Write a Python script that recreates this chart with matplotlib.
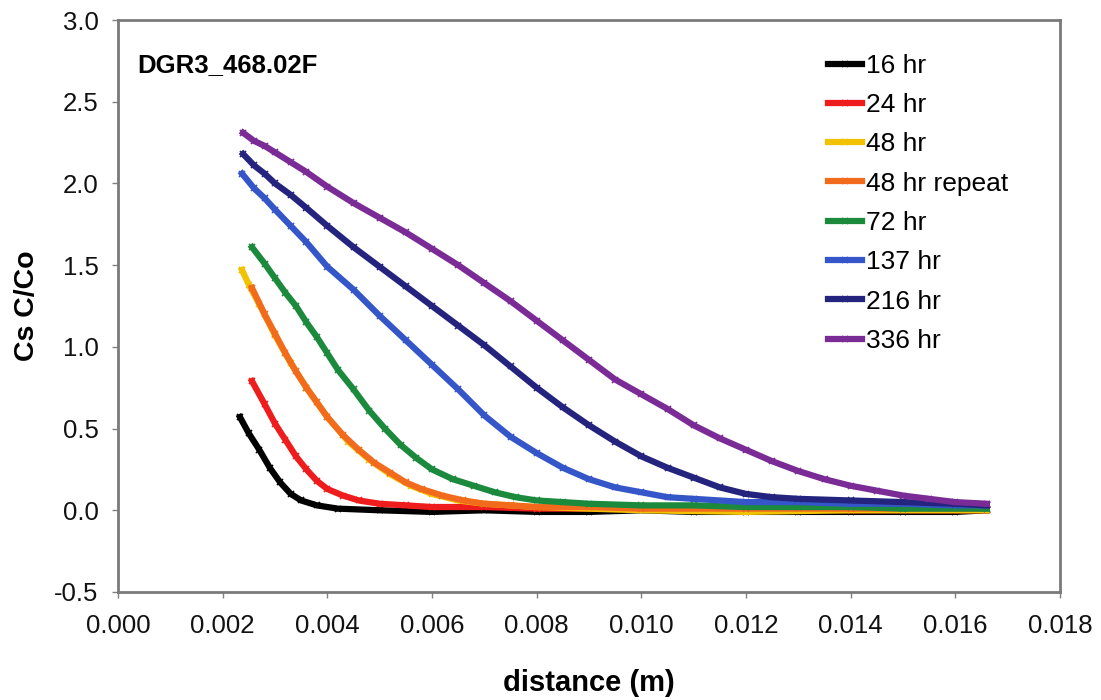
import matplotlib
matplotlib.use('Agg')
import matplotlib.pyplot as plt

plt.rcParams['font.family'] = ['Liberation Sans', 'DejaVu Sans']

# ── data (distance in m, C/Co) ────────────────────────────────
x_16 = [0.00233, 0.0025, 0.0027, 0.0029, 0.0031, 0.0033, 0.0035, 0.0038, 0.0042, 0.005,
        0.006, 0.007, 0.008, 0.009, 0.010, 0.011, 0.012, 0.013, 0.014, 0.015, 0.016, 0.0166]
y_16 = [0.57, 0.47, 0.37, 0.26, 0.17, 0.10, 0.06, 0.03, 0.01, 0.0,
        -0.01, 0.0, -0.01, -0.01, 0.0, -0.01, -0.01, -0.01, -0.01, -0.01, -0.01, 0.0]

x_24 = [0.00256, 0.0028, 0.0030, 0.0032, 0.0034, 0.0036, 0.0038, 0.0040, 0.0043, 0.0046,
        0.005, 0.0055, 0.006, 0.007, 0.008, 0.010, 0.012, 0.014, 0.0166]
y_24 = [0.79, 0.65, 0.53, 0.43, 0.33, 0.25, 0.18, 0.13, 0.09, 0.06,
        0.04, 0.03, 0.02, 0.02, 0.01, 0.01, 0.01, 0.0, 0.0]

x_48 = [0.00237, 0.0025, 0.0027, 0.0030, 0.0033, 0.0036, 0.0040, 0.0044, 0.0048, 0.0052,
        0.0056, 0.006, 0.0065, 0.007, 0.008, 0.010, 0.012, 0.014, 0.0166]
y_48 = [1.47, 1.38, 1.26, 1.07, 0.90, 0.75, 0.57, 0.42, 0.31, 0.22,
        0.15, 0.10, 0.06, 0.04, 0.02, 0.0, -0.01, 0.0, 0.0]

x_48r = [0.00256, 0.0028, 0.0030, 0.0032, 0.0034, 0.0036, 0.0038, 0.0040, 0.0043, 0.0046,
         0.0049, 0.0052, 0.0055, 0.0058, 0.0062, 0.0066, 0.007, 0.0075, 0.008, 0.009,
         0.010, 0.012, 0.014, 0.0166]
y_48r = [1.36, 1.20, 1.08, 0.96, 0.85, 0.75, 0.66, 0.57, 0.46, 0.37,
         0.29, 0.23, 0.17, 0.13, 0.09, 0.06, 0.04, 0.03, 0.02, 0.02,
         0.01, 0.01, 0.01, 0.01]

x_72 = [0.00256, 0.0028, 0.0030, 0.0032, 0.0034, 0.0036, 0.0038, 0.0040, 0.0042, 0.0045,
        0.0048, 0.0051, 0.0054, 0.0057, 0.0060, 0.0064, 0.0068, 0.0072, 0.0076, 0.008,
        0.0085, 0.009, 0.010, 0.011, 0.012, 0.013, 0.014, 0.015, 0.0166]
y_72 = [1.61, 1.51, 1.42, 1.33, 1.25, 1.15, 1.06, 0.96, 0.86, 0.74,
        0.61, 0.50, 0.40, 0.32, 0.25, 0.19, 0.15, 0.11, 0.08, 0.06,
        0.05, 0.04, 0.03, 0.03, 0.02, 0.02, 0.02, 0.01, 0.01]

x_137 = [0.00237, 0.0026, 0.0028, 0.0030, 0.0033, 0.0036, 0.0040, 0.0045, 0.0050, 0.0055,
         0.0060, 0.0065, 0.0070, 0.0075, 0.0080, 0.0085, 0.0090, 0.0095, 0.0100, 0.0105,
         0.011, 0.012, 0.013, 0.014, 0.015, 0.016, 0.0166]
y_137 = [2.06, 1.97, 1.91, 1.84, 1.74, 1.64, 1.49, 1.35, 1.19, 1.04,
         0.89, 0.74, 0.58, 0.45, 0.35, 0.26, 0.19, 0.14, 0.11, 0.08,
         0.07, 0.05, 0.05, 0.04, 0.04, 0.03, 0.03]

x_216 = [0.00239, 0.0026, 0.0028, 0.0030, 0.0033, 0.0036, 0.0040, 0.0045, 0.0050, 0.0055,
         0.0060, 0.0065, 0.0070, 0.0075, 0.0080, 0.0085, 0.0090, 0.0095, 0.0100, 0.0105,
         0.0110, 0.0115, 0.0120, 0.0125, 0.013, 0.014, 0.015, 0.016, 0.0166]
y_216 = [2.18, 2.11, 2.06, 2.00, 1.93, 1.85, 1.74, 1.61, 1.49, 1.37,
         1.25, 1.13, 1.01, 0.88, 0.75, 0.63, 0.52, 0.42, 0.33, 0.26,
         0.20, 0.14, 0.10, 0.08, 0.07, 0.06, 0.05, 0.04, 0.03]

x_336 = [0.00239, 0.0026, 0.0028, 0.0030, 0.0033, 0.0036, 0.0040, 0.0045, 0.0050, 0.0055,
         0.0060, 0.0065, 0.0070, 0.0075, 0.0080, 0.0085, 0.0090, 0.0095, 0.0100, 0.0105,
         0.0110, 0.0115, 0.0120, 0.0125, 0.0130, 0.0135, 0.0140, 0.0145, 0.0150, 0.0155,
         0.0160, 0.0166]
y_336 = [2.31, 2.26, 2.23, 2.19, 2.13, 2.07, 1.98, 1.88, 1.79, 1.70,
         1.60, 1.50, 1.39, 1.28, 1.16, 1.04, 0.92, 0.80, 0.71, 0.62,
         0.52, 0.44, 0.37, 0.30, 0.24, 0.19, 0.15, 0.12, 0.09, 0.07,
         0.05, 0.04]

labels = ['16 hr', '24 hr', '48 hr', '48 hr repeat', '72 hr', '137 hr', '216 hr', '336 hr']
colors = ['#000000', '#ee1c1c', '#f2c200', '#f26b1d', '#1c8a3c', '#3556c8', '#24247e', '#7b2b95']
series = [(x_16, y_16), (x_24, y_24), (x_48, y_48), (x_48r, y_48r),
          (x_72, y_72), (x_137, y_137), (x_216, y_216), (x_336, y_336)]

fig = plt.figure(figsize=(11.01, 7.0), dpi=100)
ax = fig.add_axes([0.1072, 0.1543, 0.8556, 0.8171])

for (xs, ys), lbl, c in zip(series, labels, colors):
    ax.plot(xs, ys, color=c, lw=4.5, marker='x', ms=4, mew=1.2,
            solid_joinstyle='round', label=lbl)

ax.set_xlim(0, 0.018)
ax.set_ylim(-0.5, 3.0)
ax.set_xticks([i * 0.002 for i in range(10)])
ax.set_xticklabels([f'{i * 0.002:.3f}' for i in range(10)])
ax.set_yticks([-0.5 + 0.5 * i for i in range(8)])
ax.set_yticklabels([f'{-0.5 + 0.5 * i:.1f}' for i in range(8)])
ax.tick_params(axis='both', labelsize=18.5, color='#808080', length=4, width=1,
               labelcolor='#111111')
ax.tick_params(axis='x', pad=12)
ax.tick_params(axis='y', pad=10)
for s in ax.spines.values():
    s.set_color('#7a7a7a')
    s.set_linewidth(2)

ax.set_xlabel('distance (m)', fontsize=21, fontweight='bold', labelpad=22)
ax.set_ylabel('Cs C/Co', fontsize=20.5, fontweight='bold', labelpad=10)

ax.text(0.02, 0.921, 'DGR3_468.02F', transform=ax.transAxes, fontsize=18.5,
        fontweight='bold', va='center', ha='left')

ax.legend(loc='upper left', bbox_to_anchor=(0.7537, 0.941), frameon=False,
          fontsize=19, handlelength=1.3, handletextpad=0.15, labelspacing=0.58,
          borderpad=0, borderaxespad=0)

fig.savefig('out.png', dpi=100)
